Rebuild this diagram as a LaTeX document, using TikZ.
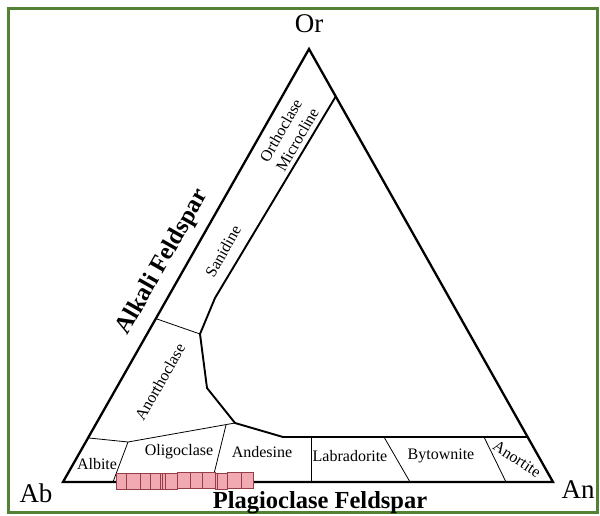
\documentclass[tikz,border=0pt]{standalone}
\usepackage{fontspec}
\setmainfont{Liberation Serif}
\definecolor{framegreen}{RGB}{84,130,53}
\definecolor{pinkfill}{RGB}{242,170,178}
\definecolor{pinkedge}{RGB}{150,62,72}
\begin{document}
\begin{tikzpicture}[x=1pt,y=-1pt,
  lbl/.style={inner sep=0pt, font=\fontsize{16}{19}\selectfont},
  vtx/.style={inner sep=0pt, font=\fontsize{27}{30}\selectfont},
  boldlbl/.style={inner sep=0pt, font=\fontsize{24.5}{28}\selectfont\bfseries},
  side/.style={line width=2.3pt, line join=miter},
  bound/.style={line width=1.9pt, line join=round},
  thinline/.style={line width=0.8pt},
  sq/.style={fill=pinkfill, draw=pinkedge, line width=0.7pt}]
\useasboundingbox (0,0) rectangle (600,515);
\fill[white] (0,0) rectangle (600,515);
\draw[framegreen, line width=3pt] (8,8) rectangle (597,512);
% vertices
\coordinate (Ab) at (63,482);
\coordinate (An) at (553,482);
\coordinate (Or) at (309,49);
% boundary points
\coordinate (b1) at (336,96);
\coordinate (b2) at (215,298);
\coordinate (b3) at (200,334);
\coordinate (b4) at (207,388);
\coordinate (b5) at (235,423);
\coordinate (b6) at (283,437);
\coordinate (b7) at (528,437);
\coordinate (s1) at (157,319);
\coordinate (p1) at (89,438);
\coordinate (p2) at (128,442);
\coordinate (q1) at (113,482);
\coordinate (o1) at (226,425);
\coordinate (o2) at (212,482);
\coordinate (l1) at (311,437);
\coordinate (l2) at (311,482);
\coordinate (y1) at (384,437);
\coordinate (y2) at (410,482);
\coordinate (t1) at (484,437);
\coordinate (t2) at (506,482);
% thin dividers
\draw[thinline] (s1) -- (b3);
\draw[thinline] (p1) -- (p2) -- (b5);
\draw[thinline] (p2) -- (q1);
\draw[thinline] (o1) -- (o2);
\draw[thinline] (l1) -- (l2);
\draw[thinline] (y1) -- (y2);
\draw[thinline] (t1) -- (t2);
% main boundary
\draw[bound] (b1) -- (b2) -- (b3) -- (b4) -- (b5) -- (b6) -- (b7);
% triangle
\draw[side] (Ab) -- (Or) -- (An) -- cycle;
% pink squares
\foreach \a/\b/\t in {116/126/473,126/140/473,140/150/473,150/160/473,160/165/473,165/177/473,177/190/472,190/202/472,202/215/472,215/227/473,227/241/472,241/253/472}{
  \draw[sq] (\a,\t) rectangle (\b,\t+16);
}
\draw[pinkedge, line width=0.7pt] (162,473) -- (162,489);
\draw[pinkedge, line width=0.7pt] (217,473) -- (217,489);
% vertex labels
\node[vtx] (tOr) at (309,24) {Or};
\node[vtx] (tAb) at (36,493) {Ab};
\node[vtx] (tAn) at (578,490) {An};
% group labels
\node[boldlbl] (tplag) at (320,503) {Plagioclase Feldspar};
\node[boldlbl, rotate=60.4] (talk) at (163,262) {Alkali Feldspar};
% mineral labels
\node[lbl, rotate=60.4, align=center] (torth) at (289,135) {Orthoclase\\Microcline};
\node[lbl, rotate=60.4] (tsan) at (223,251) {Sanidine};
\node[lbl, rotate=60.4] (tano) at (160,382) {Anorthoclase};
\node[lbl] (talb) at (97,464) {Albite};
\node[lbl] (toli) at (179,452) {Oligoclase};
\node[lbl] (tand) at (262,452) {Andesine};
\node[lbl] (tlab) at (350,456) {Labradorite};
\node[lbl] (tbyt) at (441,456) {Bytownite};
\node[lbl, rotate=-33] (tanor) at (517,459) {Anortite};
\end{tikzpicture}
\end{document}
